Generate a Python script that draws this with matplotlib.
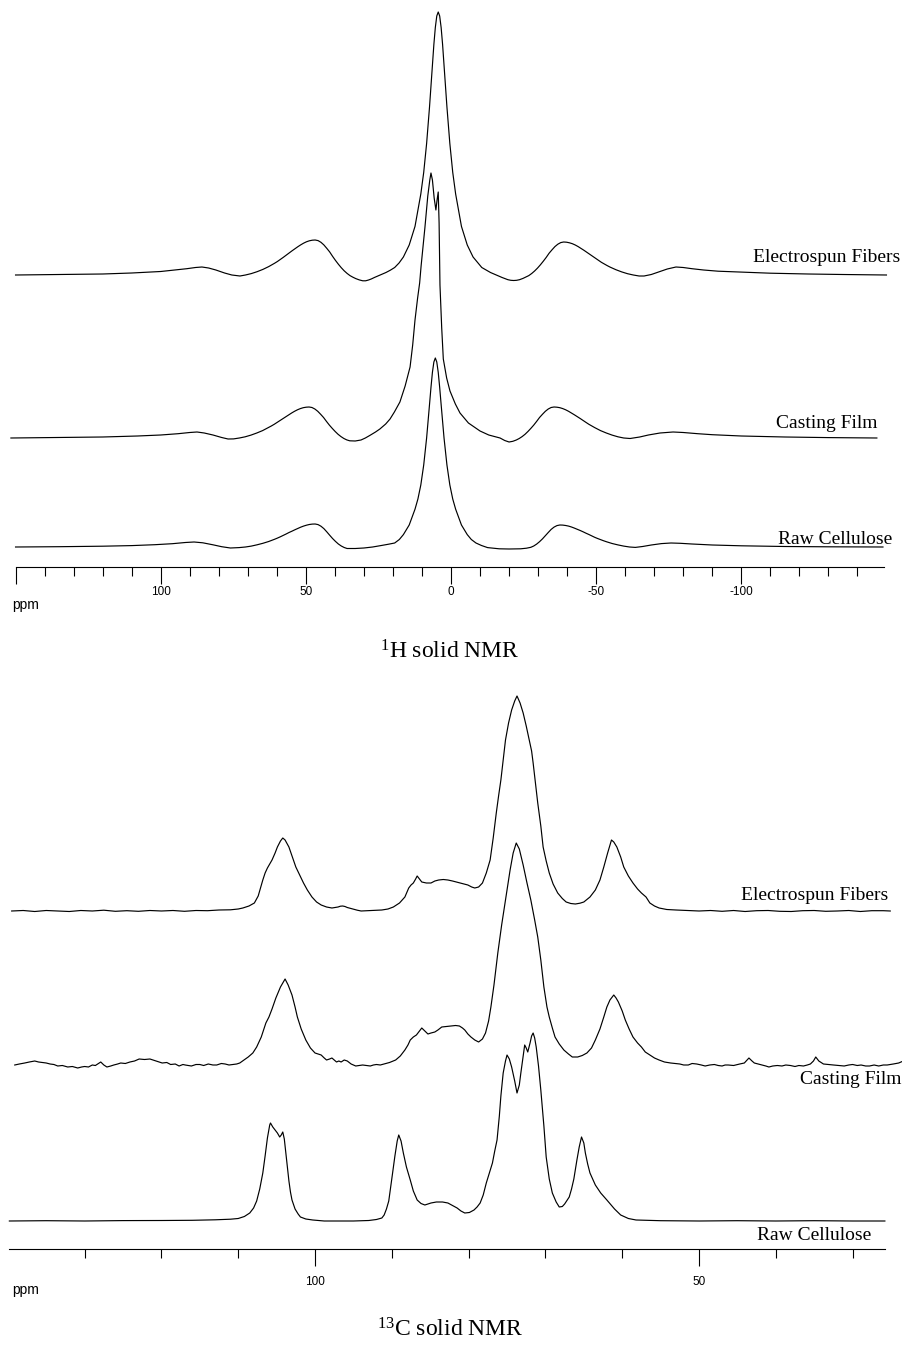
import matplotlib
matplotlib.use("Agg")
import matplotlib.pyplot as plt

# ---------------- 1H solid NMR spectra: (ppm, intensity a.u.) ----------------
h1_electrospun = [
    (150, 0), (135, 0.5), (120, 1), (110, 2), (105, 2.8), (100, 3.5), (95, 5), (91, 6.3), (88, 7.5), (85.8, 8),
    (83.5, 7), (81, 5), (78, 2), (75.5, 0), (72.7, -1), (70.8, 0), (68.8, 1.4), (66.8, 3.3), (64.8, 5.6), (62.8, 8.4),
    (61.8, 10), (60.8, 11.7), (59.8, 13.5), (58.8, 15.5), (57.8, 17.6), (56.8, 19.8), (55.8, 22), (54.8, 24.1),
    (53.8, 26.2), (52.8, 28.2), (51.8, 30.1), (50.8, 31.8), (49.8, 33.2), (48.8, 34.2), (47.8, 34.8), (46.8, 35),
    (45.8, 34.4), (44.8, 32.7), (43.8, 30.1), (42.8, 26.7), (41.8, 23.1), (40.8, 18.7), (39.8, 14.6), (38.8, 10.8),
    (37.8, 7.3), (36.8, 4.2), (35.8, 1.6), (34.8, -0.6), (33.8, -2.2), (32.8, -3.6), (31.6, -4.9), (30.4, -5.8),
    (29.4, -5.8), (28.4, -5), (27.4, -3.9), (26.4, -2.5), (24.4, 0), (22.4, 2.5), (20.9, 4.8), (19.4, 7.5), (17.9, 12),
    (16.4, 18), (14.4, 30), (12.4, 48.6), (11.4, 64.7), (10.4, 81), (9.4, 102.6), (8.4, 131.5), (7.4, 168), (6.4, 210),
    (5.9, 230.6), (5.4, 247.5), (4.9, 259), (4.4, 263), (3.9, 259), (3.4, 247.5), (2.9, 230.6), (2.4, 210), (1.7, 181),
    (1.6, 176), (1.4, 168), (0.4, 131.5), (-0.6, 102.6), (-1.6, 81), (-2.6, 64.7), (-3.6, 48.6), (-5.6, 30), (-7.6, 18),
    (-10.6, 7.5), (-13.6, 2.5), (-15.6, 0), (-17.6, -2.5), (-19.6, -4.7), (-20.6, -5.3), (-21.6, -5.5), (-22.6, -5.3),
    (-23.6, -4.7), (-24.8, -3.4), (-25.8, -2), (-26.8, -0.6), (-27.8, 1.5), (-28.8, 4), (-29.8, 6.9), (-30.8, 10.2),
    (-31.8, 13.8), (-32.8, 17.6), (-33.8, 21.8), (-34.8, 25.2), (-35.8, 28.4), (-36.8, 30.8), (-37.8, 32.4), (-38.8, 33),
    (-39.8, 32.8), (-40.8, 32.2), (-41.8, 31.3), (-42.8, 30), (-43.8, 28.4), (-44.8, 26.6), (-45.8, 24.7), (-46.8, 22.7),
    (-47.8, 20.7), (-48.8, 18.7), (-49.8, 16.6), (-50.8, 14.6), (-51.8, 12.7), (-52.8, 11), (-53.8, 9.4), (-54.8, 7.9),
    (-56.8, 5.3), (-58.8, 3.1), (-60.8, 1.3), (-62.8, 0), (-64.8, -1), (-66.5, -1), (-69, 0.5), (-72, 3.5), (-74.5, 6),
    (-77.5, 8), (-80, 7.5), (-83, 6.3), (-87, 5), (-92, 3.8), (-99.5, 3), (-110, 1.8), (-123, 1), (-135, 0.5), (-150, 0)]

h1_casting = [
    (151.6, 0), (135, 0.5), (120, 1), (108, 2), (100, 3), (94, 4.3), (90, 5.5), (87.5, 6), (85, 5), (82, 3),
    (79, 0.5), (76.8, -1), (74.9, -0.9), (72.9, 0), (70.9, 1.2), (68.9, 2.9), (66.9, 5), (64.9, 7.4), (63.9, 8.9),
    (62.9, 10.4), (61.9, 12), (60.9, 13.7), (59.9, 15.6), (58.9, 17.5), (57.9, 19.5), (56.9, 21.4), (55.9, 23.2),
    (54.9, 25), (53.9, 26.7), (52.9, 28.2), (51.9, 29.4), (50.9, 30.3), (49.9, 30.8), (48.9, 31), (47.9, 30.5),
    (46.9, 29), (45.9, 26.7), (44.9, 23.7), (43.9, 20.5), (42.9, 16.6), (41.9, 12.9), (40.9, 9.6), (39.9, 6.5),
    (38.9, 3.7), (37.9, 1.4), (36.9, -0.5), (35.9, -1.9), (34.9, -2.8), (33, -3), (31, -2), (29.5, 0), (28, 2.5),
    (26, 6), (24.5, 9), (22.5, 14), (21, 19), (19.5, 26), (17.6, 36), (15.8, 52), (14.1, 71), (13.2, 93), (12.4, 118),
    (11.5, 140), (10.8, 155), (10.4, 168), (10.3, 172), (9.6, 192), (9, 210), (8, 242), (7.3, 258), (6.9, 265), (6.4, 258),
    (5.8, 240), (5.2, 228), (4.8, 238), (4.4, 246), (4.1, 215), (3.8, 153), (3.2, 110), (2.65, 79), (1.5, 60), (0.35, 47),
    (-1.5, 34), (-3.1, 25), (-6, 15), (-10, 7), (-13, 3), (-16.9, 0), (-18.5, -2.5), (-20, -4), (-21.3, -3.3), (-22.5, -2),
    (-23.5, -0.5), (-24.5, 1.4), (-25.5, 3.7), (-26.5, 6.5), (-27.5, 9.6), (-28.5, 12.9), (-29.5, 16.6), (-30.5, 20.5),
    (-31.5, 23.7), (-32.5, 26.7), (-33.5, 29), (-34.5, 30.5), (-35.5, 31), (-36.5, 30.8), (-37.5, 30.3), (-38.5, 29.4),
    (-39.5, 28.2), (-40.5, 26.7), (-41.5, 25), (-42.5, 23.2), (-43.5, 21.4), (-44.5, 19.5), (-45.5, 17.5), (-46.5, 15.6),
    (-47.5, 13.7), (-48.5, 12), (-49.5, 10.4), (-50.5, 8.9), (-51.5, 7.4), (-53.5, 5), (-55.5, 2.9), (-57.5, 1.2),
    (-59.5, 0), (-61.7, -0.5), (-65, 1), (-68, 3), (-72, 5), (-76.5, 6), (-80, 5.5), (-85, 4.3), (-90, 3.3), (-100, 2),
    (-115, 1), (-130, 0.4), (-146.7, 0)]

h1_raw = [
    (150, 0), (135, 0.3), (120, 0.8), (110, 1.4), (102, 2.3), (96, 3.3), (91.5, 4.5), (88.5, 5), (85.5, 4.2), (82, 2.2),
    (79, 0.3), (76, -1), (73, -0.6), (70.8, 0), (68.8, 0.9), (66.8, 2.2), (64.8, 3.7), (62.8, 5.5), (61.8, 6.6),
    (60.8, 7.7), (59.8, 8.9), (58.8, 10.2), (57.8, 11.6), (56.8, 13), (55.8, 14.5), (54.8, 15.8), (53.8, 17.2),
    (52.8, 18.5), (51.8, 19.8), (50.8, 20.9), (49.8, 21.8), (48.8, 22.5), (47.8, 22.9), (46.8, 23), (45.8, 22.4),
    (44.8, 20.8), (43.8, 18.4), (42.8, 15.2), (41.8, 11.8), (40.8, 8.5), (39.8, 5.6), (38.8, 3), (37.8, 1), (36.8, -0.5),
    (35.8, -1.5), (33, -1.5), (30, -1), (27, 0), (24, 1.5), (21.5, 2.8), (19.4, 4), (17.8, 7.5), (16.4, 12.4), (14.4, 22),
    (12.4, 37.8), (11.4, 48), (10.4, 62), (9.4, 82), (8.4, 109), (7.4, 142.5), (6.9, 159.6), (6.4, 174.7), (5.9, 185),
    (5.4, 189), (4.9, 185), (4.4, 174.7), (3.9, 159.6), (3.4, 142.5), (2.4, 109), (1.4, 82), (0.4, 62), (-0.6, 48),
    (-1.6, 37.8), (-3.6, 22), (-5.6, 12.4), (-7, 7.5), (-8.6, 4), (-10.5, 1.5), (-12.6, -0.6), (-16.6, -1.8), (-20, -2),
    (-24, -1.8), (-26, -1.2), (-27.5, -0.3), (-28.5, 1), (-29.5, 2.9), (-30.5, 5.3), (-31.5, 8.1), (-32.5, 11.3),
    (-33.5, 14.5), (-34.5, 17.6), (-35.5, 19.9), (-36.5, 21.4), (-37.5, 22), (-38.5, 21.9), (-39.5, 21.5), (-40.5, 20.9),
    (-41.5, 20), (-42.5, 18.9), (-43.5, 17.7), (-44.5, 16.5), (-45.5, 15.2), (-46.5, 13.8), (-47.5, 12.5), (-48.5, 11.1),
    (-49.5, 9.7), (-50.5, 8.5), (-51.5, 7.4), (-52.5, 6.3), (-53.5, 5.3), (-55.5, 3.5), (-57.5, 2.1), (-59.5, 0.9),
    (-61.5, 0), (-63.5, -0.4), (-66, 0.5), (-69, 2), (-72.5, 3.4), (-75.8, 4), (-79, 3.7), (-83, 3), (-90, 2),
    (-100, 1.2), (-115, 0.5), (-130, 0.2), (-148.8, 0)]

# ---------------- 13C solid NMR spectra: (ppm, intensity a.u.) ----------------
c13_electrospun = [
    (139.5, 0), (138, 0.5), (136.5, -0.5), (135, 0.5), (133.5, 0), (132, -0.5), (130.5, 0.5), (129, 0), (127.5, 0.8),
    (126, -0.3), (124.5, 0.3), (123, -0.3), (121.5, 0.5), (120, 0), (118.5, 0.5), (117, -0.3), (115.5, 0.5), (114, 0.3),
    (112.5, 1), (111, 1.2), (110, 2), (109.4, 3), (108.6, 5), (107.9, 8), (107.4, 15), (106.8, 31), (106.5, 38), (106.2, 43),
    (105.9, 47), (105.6, 51), (105.2, 58), (104.9, 64), (104.5, 70), (104.2, 73), (103.9, 71), (103.4, 64), (103.0, 55),
    (102.5, 44), (102.0, 36), (101.5, 28), (101.0, 21), (100.4, 14), (99.8, 9), (99.2, 6), (98.5, 4), (97.8, 3),
    (97.4, 3.5), (97.0, 4), (96.7, 4.8), (96.4, 5), (96.1, 4.5), (95.8, 3.5), (95.1, 2), (94.5, 0.8), (94.0, 0), (93.2, 0.3),
    (92.5, 0.5), (91.3, 1), (90.5, 2), (89.8, 4), (89.0, 8), (88.3, 14), (87.8, 23), (87.5, 26), (87.2, 28), (86.9, 32),
    (86.7, 35), (86.4, 32), (86.1, 29), (85.5, 28), (84.9, 28), (84.4, 30), (83.9, 31), (83.3, 31.5), (82.7, 31), (82.1, 30),
    (81.6, 29), (80.8, 27.5), (80.1, 26), (79.6, 24), (79.2, 23), (78.7, 24), (78.2, 28), (77.7, 38), (77.2, 51), (76.8, 73),
    (76.4, 98), (76.1, 115), (75.8, 131), (75.5, 151), (75.2, 171), (74.8, 188), (74.4, 201), (74.0, 210), (73.7, 215),
    (73.3, 208), (72.9, 198), (72.5, 185), (72.1, 171), (71.8, 160), (71.6, 148), (71.3, 128), (71.0, 108), (70.6, 85),
    (70.3, 64), (69.9, 50), (69.5, 38), (69.0, 27), (68.4, 18), (67.8, 12.5), (67.3, 9), (66.7, 7.5), (66.1, 7), (65.5, 7.8),
    (65.0, 9), (64.2, 14), (63.5, 21), (62.9, 31), (62.4, 44), (61.9, 58), (61.4, 71), (61.1, 69), (60.7, 64), (60.2, 54),
    (59.8, 44), (59.2, 35), (58.6, 28), (58.0, 22), (57.5, 18), (56.9, 14), (56.4, 8), (55.8, 5), (55.2, 3), (54.2, 1.5),
    (53.0, 1), (51.5, 0.5), (50, 0), (48.5, 0.5), (47, -0.3), (45.5, 0.5), (44, -0.5), (42.5, 0.3), (41, 0.5), (39.5, -0.3),
    (38, -0.5), (36.5, 0.3), (35, 0.5), (33.5, -0.3), (32, 0), (30.5, 0.5), (29, -0.5), (27.5, 0.3), (26, 0.3), (25.1, 0)]

c13_casting = [
    (139.1, 0), (138.5, 1), (137.8, 2), (137.2, 3), (136.5, 4), (136.0, 3), (135.5, 2.5), (135.0, 2), (134.5, 1),
    (134.0, 0.5), (133.5, -1), (132.9, -0.5), (132.2, -2), (131.6, -1.5), (130.9, -3), (130.4, -2), (130.0, -1.5),
    (129.5, -2), (129.0, 0), (128.6, -0.5), (128.3, 1), (127.9, 3), (127.5, 0), (127.1, -2), (126.6, -1), (126.2, 0),
    (125.7, 1), (125.3, 2), (124.7, 1.5), (124.1, 3), (123.5, 4), (122.9, 6), (122.2, 5.5), (121.5, 6), (121.1, 5),
    (120.7, 4), (120.3, 3), (119.9, 2), (119.3, 2.5), (118.8, 0.5), (118.2, 1), (117.7, -1), (117.2, 0.5), (116.9, 0),
    (116.5, -0.5), (116.1, -1), (115.5, 0.5), (115.0, 0.5), (114.5, -0.5), (113.9, 1), (113.3, 0), (112.8, 0), (112.2, 1.5),
    (111.7, 1), (111.2, 0), (110.7, 0.5), (110.2, 1), (109.8, 2), (108.7, 8), (108.1, 12), (107.6, 18), (107.0, 28),
    (106.4, 42), (106.0, 48), (105.6, 56), (105.1, 67), (104.5, 78), (103.9, 86), (103.5, 80), (103.0, 70), (102.6, 58),
    (102.3, 48), (101.8, 36), (101.2, 25), (100.6, 17), (100.0, 12), (99.6, 11), (99.2, 10), (98.8, 7), (98.5, 5),
    (98.1, 6), (97.8, 7), (97.5, 5), (97.2, 3), (96.9, 4), (96.6, 3), (96.2, 5), (95.8, 4), (95.3, 1), (94.7, -1),
    (94.2, -0.5), (93.8, 0), (93.3, -0.5), (92.8, -1), (92.4, 0), (92.0, 0.5), (91.5, 0), (91.0, 1), (90.3, 2.5), (89.5, 5),
    (88.9, 9), (88.3, 15), (87.9, 20), (87.6, 25), (87.2, 28), (86.8, 30), (86.4, 34), (86.1, 37), (85.7, 34), (85.3, 31),
    (84.9, 32), (84.4, 33), (84.0, 35), (83.5, 38), (82.9, 38.5), (82.3, 39), (81.7, 39.5), (81.2, 39), (80.8, 37),
    (80.5, 35), (80.1, 31), (79.7, 28), (79.2, 25), (78.7, 23), (78.2, 26), (77.8, 32), (77.4, 44), (77.1, 58), (76.7, 80),
    (76.2, 112), (75.7, 140), (75.1, 170), (74.6, 195), (74.2, 212), (73.8, 222), (73.4, 216), (72.9, 200), (72.4, 182),
    (71.9, 165), (71.4, 145), (71.0, 128), (70.6, 105), (70.2, 78), (69.8, 58), (69.5, 48), (69.1, 37), (68.75, 28),
    (68.2, 21), (67.6, 15), (67.0, 11), (66.5, 8), (65.8, 8), (65.2, 9.5), (64.6, 12), (64.0, 17), (63.5, 25), (62.9, 36),
    (62.4, 48), (62.0, 58), (61.6, 65), (61.1, 70), (60.8, 67), (60.5, 63), (60.0, 54), (59.6, 45), (59.1, 36), (58.6, 28),
    (58.0, 22), (57.5, 18), (57.0, 13), (56.4, 10), (55.8, 7), (55.2, 5), (54.5, 3), (53.7, 2), (53.1, 1.5), (52.5, 1),
    (52.0, 0), (51.4, 0), (50.9, 1.5), (50.3, 1), (49.7, 0), (49.2, -1), (48.6, 0), (48.0, 0.5), (47.5, -0.5), (47.0, -1),
    (46.6, 0), (46.2, 0), (45.5, -0.5), (44.7, 1), (44.1, 2), (43.5, 7), (43.1, 4), (42.8, 2), (42.3, 1), (41.8, 0),
    (41.3, -1), (40.9, -2), (40.4, -1), (39.8, -0.5), (39.2, -1), (38.7, 0), (38.1, -0.5), (37.5, -1.5), (37.0, -0.5),
    (36.4, -1), (35.9, 0), (35.5, 1), (35.1, 4), (34.8, 8), (34.4, 4), (33.8, 1), (33.2, 0.5), (32.5, 0), (31.8, -0.5),
    (31.1, -1), (30.5, 0), (30.0, 0.5), (29.4, -0.5), (28.9, 0), (28.3, -1), (27.8, -1), (27.2, 0), (26.6, -1), (26.0, 0),
    (25.5, 0), (25.1, 0.5), (24.7, 1), (24.0, 2), (23.4, 4)]

c13_raw = [
    (139.8, 0), (135, 0.3), (130, 0), (125, 0.4), (120, 0.5), (116, 0.7), (113, 1.2), (111, 1.8), (110, 2.5), (109.2, 4.5),
    (108.5, 8), (108, 13), (107.6, 20), (107.2, 32), (106.8, 48), (106.5, 65), (106.2, 83), (105.9, 96), (105.8, 98),
    (105.5, 94), (105.2, 91), (104.9, 88), (104.6, 84), (104.4, 86), (104.2, 89), (104.0, 82), (103.8, 68), (103.6, 54),
    (103.4, 40), (103.2, 29), (103.0, 21), (102.6, 12), (102.2, 7), (101.9, 4), (101.2, 2), (100.3, 1), (98.8, 0), (95, 0),
    (93, 0.5), (92, 1.5), (91.3, 3), (91, 6), (90.7, 12), (90.4, 20), (90.2, 31), (89.9, 48), (89.6, 65), (89.3, 80),
    (89.1, 86), (88.8, 80), (88.5, 68), (88.1, 54), (87.6, 41), (87.2, 30), (86.7, 21), (86.2, 17.5), (85.7, 16), (84.9, 18),
    (84.2, 19), (83.4, 19), (82.7, 18), (82.1, 15.5), (81.5, 13), (81, 10), (80.5, 8), (79.9, 8.5), (79.3, 11), (78.9, 14),
    (78.5, 18), (78.1, 26), (77.7, 38), (77.3, 48), (76.9, 58), (76.6, 70), (76.3, 81), (76.0, 105), (75.8, 125),
    (75.5, 148), (75.2, 160), (75.0, 166), (74.7, 162), (74.4, 154), (74.0, 140), (73.7, 128), (73.4, 136), (73.2, 148),
    (72.9, 165), (72.7, 176), (72.5, 173), (72.3, 169), (72.0, 178), (71.8, 185), (71.6, 188), (71.4, 183), (71.2, 174),
    (70.9, 155), (70.6, 131), (70.2, 95), (69.9, 64), (69.5, 42), (69.1, 28), (68.6, 19), (68.2, 14), (67.8, 14.5),
    (67.5, 17), (66.9, 24), (66.6, 32), (66.3, 42), (65.9, 61), (65.6, 74), (65.3, 84), (65.0, 78), (64.8, 68), (64.5, 57),
    (64.2, 48), (63.8, 41), (63.5, 36), (62.8, 28), (62.0, 21), (61.0, 12), (60.2, 6), (59.2, 2.5), (58.2, 1), (55, 0.3),
    (50, 0), (45, 0.3), (40, 0), (35, 0.3), (30, 0), (25.8, 0)]

h1_labels = ["Electrospun Fibers", "Casting Film", "Raw Cellulose"]
c13_labels = ["Electrospun Fibers", "Casting Film", "Raw Cellulose"]
h1_major_ticks = [150, 100, 50, 0, -50, -100]
h1_major_labels = ["", "100", "50", "0", "-50", "-100"]
h1_minor_ticks = [140, 130, 120, 110, 90, 80, 70, 60, 40, 30, 20, 10, -10, -20, -30, -40, -60, -70, -80, -90,
                  -110, -120, -130, -140]
c13_major_ticks = [100, 50]
c13_major_labels = ["100", "50"]
c13_minor_ticks = [130, 120, 110, 90, 80, 70, 60, 40, 30]

# ---------------- layout ----------------
W, H = 902, 1354
fig = plt.figure(figsize=(W / 100, H / 100), dpi=100)
fig.patch.set_facecolor("white")
plt.rcParams["mathtext.fontset"] = "custom"
plt.rcParams["mathtext.rm"] = "Liberation Serif"

SERIF = "Liberation Serif"
SANS = "Liberation Sans"


def px_axes(top, bottom):
    return fig.add_axes([0, 1 - bottom / H, 1, (bottom - top) / H])


def style_axis(ax, bounds, majors, major_labels, minors, pad, size):
    for s in ("top", "left", "right"):
        ax.spines[s].set_visible(False)
    ax.spines["bottom"].set_bounds(*bounds)
    ax.spines["bottom"].set_linewidth(0.8)
    ax.yaxis.set_visible(False)
    ax.set_xticks(majors)
    ax.set_xticklabels(major_labels, fontfamily=SANS, fontsize=size)
    ax.set_xticks(minors, minor=True)
    ax.tick_params(axis="x", which="major", direction="out", length=12, width=0.8, pad=pad)
    ax.tick_params(axis="x", which="minor", direction="out", length=6.5, width=0.8)
    ax.patch.set_alpha(0)


def draw(ax, spectrum, offset):
    ppm = [p for p, _ in spectrum]
    inten = [v + offset for _, v in spectrum]
    ax.plot(ppm, inten, color="black", lw=0.85, clip_on=False, solid_joinstyle="round")


# 1H panel: spine at y=567 px
ax1 = px_axes(0, 567)
ax1.set_xlim(155.36, -155.36)
ax1.set_ylim(0, 567)
style_axis(ax1, (150, -149.2), h1_major_ticks, h1_major_labels, h1_minor_ticks, pad=2, size=8.5)
for spec, off in ((h1_electrospun, 292), (h1_casting, 129), (h1_raw, 20)):
    draw(ax1, spec, off)

# 13C panel: spine at y=1249 px
ax2 = px_axes(640, 1249)
ax2.set_xlim(141.02, 23.57)
ax2.set_ylim(0, 609)
style_axis(ax2, (139.8, 25.8), c13_major_ticks, c13_major_labels, c13_minor_ticks, pad=7.5, size=8.5)
for spec, off in ((c13_electrospun, 338), (c13_casting, 184), (c13_raw, 28)):
    draw(ax2, spec, off)


def ftext(x, y, s, **kw):
    fig.text(x / W, 1 - y / H, s, **kw)


# trace labels
h1_label_pos = [(900, 257), (877, 424), (892, 540)]
for (x, y), s in zip(h1_label_pos, h1_labels):
    ftext(x, y, s, ha="right", va="center", fontsize=14, family=SERIF)
c13_label_pos = [(888, 896), (902, 1080), (871, 1236)]
for (x, y), s in zip(c13_label_pos, c13_labels):
    ftext(x, y, s, ha="right", va="center", fontsize=14, family=SERIF)

# ppm unit labels
ftext(12, 605, "ppm", ha="left", va="center", fontsize=10, family=SANS)
ftext(12, 1290, "ppm", ha="left", va="center", fontsize=10, family=SANS)

# panel titles
ftext(450, 652, r"$\mathregular{^{1}}$H solid NMR", ha="center", va="center", fontsize=17, family=SERIF)
ftext(450, 1330, r"$\mathregular{^{13}}$C solid NMR", ha="center", va="center", fontsize=17, family=SERIF)

fig.savefig("out.png", dpi=100)
